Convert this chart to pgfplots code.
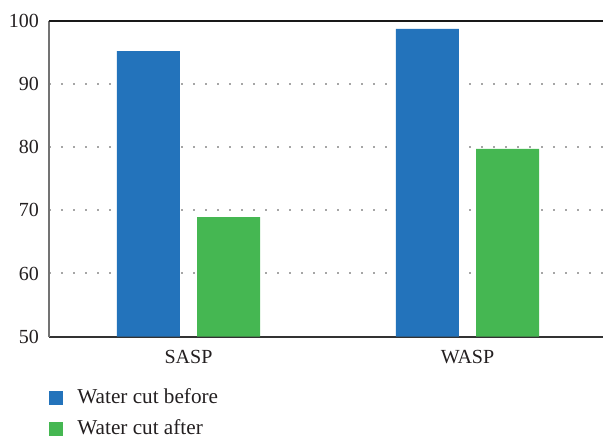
\documentclass[border=0pt]{standalone}
\usepackage{fontspec}
\setmainfont{Liberation Serif}
\usepackage{pgfplots}
\pgfplotsset{compat=1.18}
\definecolor{cblue}{HTML}{2373BB}
\definecolor{cgreen}{HTML}{45B752}
\definecolor{txt}{HTML}{231F20}
\begin{document}
\begin{tikzpicture}
\begin{axis}[
    name=ax,
    width=277pt, height=158pt,
    scale only axis,
    ybar,
    ymin=50, ymax=100,
    ytick={50,60,...,100},
    xmin=-0.5, xmax=1.4857,
    xtick=data,
    xticklabels={SASP,WASP},
    major tick length=0pt,
    axis x line*=bottom,
    axis y line*=left,
    x axis line style={-, color=black!80, line width=1pt},
    y axis line style={-, color=black!55, line width=1pt},
    ymajorgrids,
    major grid style={gray!70, line width=1pt, dash pattern=on 1pt off 5pt},
    extra y ticks={100},
    extra y tick labels={},
    extra y tick style={grid=major, major grid style={solid, black!90, line width=1pt}},
    ticklabel style={font=\fontsize{10}{12}\selectfont, text=txt},
    yticklabel style={xshift=-1.5pt},
    xticklabel style={yshift=-3pt},
    /pgf/number format/assume math mode=true,
    bar width=0.2258,
    legend style={at={(0,-0.1505)}, anchor=north west, draw=none, fill=none,
        inner sep=0pt, row sep=2.5pt, font=\fontsize{10.6}{12}\selectfont, text=txt,
        legend cell align=left,
        /tikz/every odd column/.append style={column sep=5pt}},
    legend image code/.code={\fill[#1,draw=none] (0pt,-3.5pt) rectangle (7pt,3.5pt);},
    clip=false,
]
\addplot[fill=cblue, draw=none, bar shift=-0.1434] coordinates {(0,95.2) (1,98.7)};
\addplot[fill=cgreen, draw=none, bar shift=0.1434] coordinates {(0,68.9) (1,79.7)};
\legend{Water cut before, Water cut after}
\end{axis}
\pgfresetboundingbox
\path (ax.south west) ++(-24.5pt,-49.65pt) coordinate (bl);
\path (ax.north east) ++(0pt,10.35pt) coordinate (tr);
\path[use as bounding box] (bl) rectangle (tr);
\end{tikzpicture}
\end{document}
